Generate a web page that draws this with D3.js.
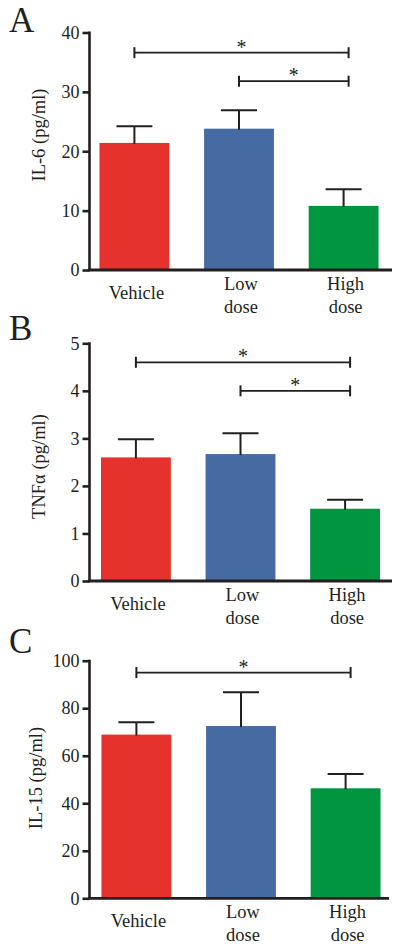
<!DOCTYPE html>
<html><head><meta charset="utf-8">
<script src="https://cdn.jsdelivr.net/npm/d3@7"></script>
<style>body{margin:0;background:#fff} svg, svg text, svg tspan{font-family:"Liberation Serif","Times New Roman",serif !important}</style>
</head><body><svg id="c" width="400" height="951"></svg>
<script>
const categories = ["Vehicle", "Low dose", "High dose"];
const categoryLines = [["Vehicle"], ["Low", "dose"], ["High", "dose"]];
const barColors = ["#E5322C", "#466BA3", "#00963F"];

const il6Mean = [21.4, 23.8, 10.8];
const il6Err = [2.8, 3.1, 2.8];
const tnfMean = [2.60, 2.67, 1.52];
const tnfErr = [0.38, 0.44, 0.19];
const il15Mean = [68.9, 72.5, 46.3];
const il15Err = [5.2, 14.2, 6.0];

const il6Ticks = [0, 10, 20, 30, 40];
const tnfTicks = [0, 1, 2, 3, 4, 5];
const il15Ticks = [0, 20, 40, 60, 80, 100];

const il6Sig = [{from: 0, to: 2, y: 36.6}, {from: 1, to: 2, y: 31.8}];
const tnfSig = [{from: 0, to: 2, y: 4.6}, {from: 1, to: 2, y: 4.0}];
const il15Sig = [{from: 0, to: 2, y: 95.0}];

const panelLetters = ["A", "B", "C"];
const yLabels = ["IL-6 (pg/ml)", "TNFα (pg/ml)", "IL-15 (pg/ml)"];

const panelData = [
  {mean: il6Mean, err: il6Err, ticks: il6Ticks, sig: il6Sig},
  {mean: tnfMean, err: tnfErr, ticks: tnfTicks, sig: tnfSig},
  {mean: il15Mean, err: il15Err, ticks: il15Ticks, sig: il15Sig}
];
// layout (pixels)
const layout = [
  {top: 32.5, bottom: 270, axisX: 89.5, xL: 89, xR: 389, axisR: 392, letterY: 32, labX: 44.5, labY: 135},
  {top: 343.3, bottom: 581, axisX: 89.5, xL: 90.5, xR: 390.5, axisR: 392, letterY: 340, labX: 45, labY: 466.5},
  {top: 660.7, bottom: 898.3, axisX: 89.5, xL: 91, xR: 391, axisR: 389, letterY: 653, labX: 42, labY: 778}
];

const FONT = '"Liberation Serif", "Times New Roman", serif';
const svg = d3.select("#c").attr("font-family", FONT);
const ink = "#231f20";

panelData.forEach((pd, i) => {
  const L = layout[i];
  const g = svg.append("g");
  const x = d3.scaleBand().domain(categories).range([L.xL, L.xR]).paddingInner(0.332).paddingOuter(0.1);
  const y = d3.scaleLinear().domain([0, d3.max(pd.ticks)]).range([L.bottom, L.top]);

  // bars
  g.selectAll("rect.bar").data(pd.mean).join("rect")
    .attr("x", (d, j) => x(categories[j]))
    .attr("width", x.bandwidth())
    .attr("y", d => y(d))
    .attr("height", d => y(0) - y(d))
    .attr("fill", (d, j) => barColors[j]);

  // error bars
  const eb = g.selectAll("g.eb").data(pd.mean).join("g");
  eb.append("line")
    .attr("x1", (d, j) => x(categories[j]) + x.bandwidth() / 2)
    .attr("x2", (d, j) => x(categories[j]) + x.bandwidth() / 2)
    .attr("y1", d => y(d) + 1)
    .attr("y2", (d, j) => y(d + pd.err[j]))
    .attr("stroke", ink).attr("stroke-width", 2);
  eb.append("line")
    .attr("x1", (d, j) => x(categories[j]) + x.bandwidth() / 2 - 18)
    .attr("x2", (d, j) => x(categories[j]) + x.bandwidth() / 2 + 18)
    .attr("y1", (d, j) => y(d + pd.err[j]))
    .attr("y2", (d, j) => y(d + pd.err[j]))
    .attr("stroke", ink).attr("stroke-width", 2);

  // y axis
  const ax = g.append("g").attr("transform", `translate(${L.axisX},0)`)
    .call(d3.axisLeft(y).tickValues(pd.ticks).tickFormat(d3.format("d"))
      .tickSize(7).tickPadding(3).tickSizeOuter(0));
  ax.attr("font-family", FONT).attr("font-size", 18);
  ax.selectAll("path,line").attr("stroke", ink).attr("stroke-width", 2.6);
  ax.selectAll("text").attr("fill", ink).attr("font-family", FONT).attr("font-size", 18);
  ax.select("path.domain").attr("d", `M0,${L.top - 1}V${L.bottom}`);

  // x axis line
  g.append("line").attr("x1", L.axisX - 1.3).attr("x2", L.axisR)
    .attr("y1", L.bottom).attr("y2", L.bottom)
    .attr("stroke", ink).attr("stroke-width", 2.8);

  // x labels
  categoryLines.forEach((lines, j) => {
    const cx = x(categories[j]) + x.bandwidth() / 2 + 2;
    const t = g.append("text").attr("text-anchor", "middle").attr("font-size", 18.5)
      .attr("font-family", FONT).attr("fill", ink);
    if (lines.length === 1) {
      t.append("tspan").attr("x", cx).attr("y", L.bottom + 29).text(lines[0]);
    } else {
      t.append("tspan").attr("x", cx).attr("y", L.bottom + 19.5).text(lines[0]);
      t.append("tspan").attr("x", cx).attr("y", L.bottom + 42.5).text(lines[1]);
    }
  });

  // significance brackets
  pd.sig.forEach(s => {
    const x1 = x(categories[s.from]) + x.bandwidth() / 2;
    const x2 = x(categories[s.to]) + x.bandwidth() / 2 + 5;
    const yy = y(s.y);
    g.append("line").attr("x1", x1).attr("x2", x2).attr("y1", yy).attr("y2", yy)
      .attr("stroke", ink).attr("stroke-width", 1.8);
    [x1, x2].forEach(xx => g.append("line").attr("x1", xx).attr("x2", xx)
      .attr("y1", yy - 5.5).attr("y2", yy + 5.5).attr("stroke", ink).attr("stroke-width", 2));
    g.append("text").attr("x", (x1 + x2) / 2).attr("y", yy + 1).attr("text-anchor", "middle")
      .attr("font-size", 20).attr("font-family", FONT).attr("fill", ink).text("*");
  });

  // y label
  g.append("text").attr("transform", `translate(${L.labX},${L.labY}) rotate(-90)`)
    .attr("text-anchor", "middle").attr("font-size", 18.5).attr("font-family", FONT)
    .attr("fill", ink).text(yLabels[i]);

  // panel letter
  g.append("text").attr("x", 9).attr("y", L.letterY).attr("font-size", 35)
    .attr("font-family", FONT).attr("fill", ink).text(panelLetters[i]);
});
</script></body></html>
